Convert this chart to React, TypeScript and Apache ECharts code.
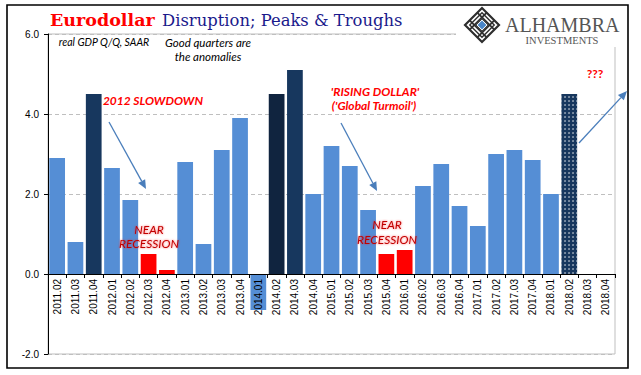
import React, { useEffect, useRef } from 'react';
import * as echarts from 'echarts';

const quarters = [
  '2011.02', '2011.03', '2011.04',
  '2012.01', '2012.02', '2012.03', '2012.04',
  '2013.01', '2013.02', '2013.03', '2013.04',
  '2014.01', '2014.02', '2014.03', '2014.04',
  '2015.01', '2015.02', '2015.03', '2015.04',
  '2016.01', '2016.02', '2016.03', '2016.04',
  '2017.01', '2017.02', '2017.03', '2017.04',
  '2018.01', '2018.02', '2018.03', '2018.04',
];

const gdpGrowth: (number | null)[] = [
  2.9, 0.8, 4.5,
  2.65, 1.85, 0.5, 0.1,
  2.8, 0.75, 3.1, 3.9,
  -0.9, 4.5, 5.1, 2.0,
  3.2, 2.7, 1.6, 0.5,
  0.6, 2.2, 2.75, 1.7,
  1.2, 3.0, 3.1, 2.85,
  2.0, 4.5, null, null,
];

const yTicks = [-2, 0, 2, 4, 6];
const peakQuarters = ['2011.04', '2014.03'];
const darkestQuarter = '2014.02';
const nearRecessionQuarters = ['2012.03', '2012.04', '2015.04', '2016.01'];
const forecastQuarter = '2018.02';

const BLUE = '#558ed5';
const NAVY = '#17375e';
const DARK = '#10243f';
const RED = '#ff0000';
const ARROW = '#4a7ebb';
const ANNO_FONT = 'Lato, "Open Sans", sans-serif';

const GRID_TOP = 34;
const GRID_BOTTOM = 21;
const CHART_H = 375;

function arrow(x1: number, y1: number, x2: number, y2: number) {
  const dx = x2 - x1;
  const dy = y2 - y1;
  const len = Math.sqrt(dx * dx + dy * dy);
  const ux = dx / len;
  const uy = dy / len;
  const hl = 9;
  const hw = 4;
  const bx = x2 - ux * hl;
  const by = y2 - uy * hl;
  return [
    {
      type: 'line',
      z: 100,
      shape: { x1, y1, x2: bx, y2: by },
      style: { stroke: ARROW, lineWidth: 1.3 },
    },
    {
      type: 'polygon',
      z: 100,
      shape: {
        points: [
          [x2, y2],
          [bx - uy * hw, by + ux * hw],
          [bx + uy * hw, by - ux * hw],
        ],
      },
      style: { fill: ARROW },
    },
  ];
}

function logo(cx: number, cy: number, s: number) {
  const p = (u: number, v: number) => [cx + ((u - v) * s) / 2, cy + ((u + v) * s) / 2];
  const diamond = (r: number) => [p(-r, -r), p(r, -r), p(r, r), p(-r, r)];
  const els: any[] = [];
  els.push({
    type: 'polygon',
    z: 100,
    shape: { points: diamond(1) },
    style: { fill: '#fff', stroke: '#2e2e2e', lineWidth: 2.2 },
  });
  els.push({
    type: 'polygon',
    z: 100,
    shape: { points: diamond(0.72) },
    style: { fill: 'none', stroke: '#2e2e2e', lineWidth: 1.4 },
  });
  [-0.45, 0.45].forEach((t) => {
    els.push({
      type: 'line', z: 100,
      shape: { x1: p(t, -1)[0], y1: p(t, -1)[1], x2: p(t, 1)[0], y2: p(t, 1)[1] },
      style: { stroke: '#2e2e2e', lineWidth: 1.8 },
    });
    els.push({
      type: 'line', z: 100,
      shape: { x1: p(-1, t)[0], y1: p(-1, t)[1], x2: p(1, t)[0], y2: p(1, t)[1] },
      style: { stroke: '#2e2e2e', lineWidth: 1.8 },
    });
  });
  els.push({
    type: 'polygon',
    z: 101,
    shape: { points: diamond(0.36) },
    style: { fill: '#fff', stroke: '#2e2e2e', lineWidth: 1 },
  });
  els.push({
    type: 'polygon',
    z: 102,
    shape: { points: diamond(0.26) },
    style: { fill: '#4a86c8' },
  });
  return els;
}

function barColor(q: string) {
  if (q === darkestQuarter) return DARK;
  if (peakQuarters.includes(q)) return NAVY;
  if (nearRecessionQuarters.includes(q)) return RED;
  if (q === forecastQuarter) return NAVY;
  return BLUE;
}

export default function App() {
  const ref = useRef<HTMLDivElement>(null);

  useEffect(() => {
    if (!ref.current) return;
    const chart = echarts.init(ref.current, undefined, { renderer: 'svg' });

    const yMin = yTicks[0];
    const yMax = yTicks[yTicks.length - 1];
    const plotH = CHART_H - GRID_TOP - GRID_BOTTOM;
    // distance from the bottom of the grid up to the zero line, from the value scale
    const zeroOffset = ((0 - yMin) / (yMax - yMin)) * plotH;

    const data = quarters.map((q, i) => {
      const item: any = { value: gdpGrowth[i], itemStyle: { color: barColor(q) } };
      if (q === forecastQuarter) {
        item.itemStyle.decal = {
          symbol: 'circle',
          symbolSize: 0.7,
          color: '#ffffff',
          dashArrayX: [2, 1.6],
          dashArrayY: [2, 1.6],
          rotation: 0,
        };
      }
      return item;
    });

    const textEl = (text: string, x: number, y: number, style: any) => ({
      type: 'text',
      z: 100,
      x,
      y,
      style: { text, textAlign: 'center', textVerticalAlign: 'middle', ...style },
    });

    const redLabel = { fill: RED, font: `italic bold 12px ${ANNO_FONT}` };
    const recLabel = { fill: '#c00000', font: `italic 12px ${ANNO_FONT}`, textShadowColor: 'rgba(255,0,0,0.6)', textShadowBlur: 2 };

    chart.setOption({
      animation: false,
      backgroundColor: '#ffffff',
      grid: {
        left: 48,
        right: 26,
        top: GRID_TOP,
        bottom: GRID_BOTTOM,
        containLabel: false,
        outerBoundsMode: 'none',
        show: true,
        borderColor: '#bfbfbf',
        borderWidth: 1,
        backgroundColor: 'transparent',
      },
      xAxis: {
        type: 'category',
        data: quarters,
        offset: -zeroOffset,
        axisLine: { onZero: false, lineStyle: { color: '#000', width: 1 } },
        axisTick: { show: true, length: 4, lineStyle: { color: '#000' } },
        axisLabel: {
          rotate: 90,
          interval: 0,
          margin: 5,
          fontSize: 10,
          fontFamily: '"Liberation Sans", Arial, sans-serif',
          color: '#000',
        },
        splitLine: { show: false },
        z: 5,
      },
      yAxis: {
        type: 'value',
        min: yMin,
        max: yMax,
        interval: 2,
        axisLine: { show: true, lineStyle: { color: '#000', width: 1 } },
        axisTick: { show: true, length: 4, lineStyle: { color: '#000' } },
        axisLabel: {
          formatter: (v: number) => v.toFixed(1),
          fontSize: 10,
          margin: 9,
          fontFamily: '"Liberation Sans", Arial, sans-serif',
          color: '#000',
        },
        splitLine: { show: true, lineStyle: { color: '#bfbfbf', type: [4, 3], width: 1 } },
      },
      series: [
        {
          type: 'bar',
          data,
          barCategoryGap: '14%',
          z: 2,
        },
      ],
      graphic: [
        {
          type: 'rect', z: 99,
          shape: { x: 456, y: 30, width: 162, height: 8 },
          style: { fill: '#fff' },
        },
        {
          type: 'rect', z: 99,
          shape: { x: 612, y: 30, width: 8, height: 17 },
          style: { fill: '#fff' },
        },
        {
          type: 'rect', z: 100,
          shape: { x: 7, y: 5, width: 621, height: 363 },
          style: { fill: 'none', stroke: '#000', lineWidth: 1.6 },
        },
        {
          type: 'text', z: 100, x: 50, y: 20,
          style: {
            text: 'Eurodollar',
            fill: RED,
            font: 'bold 17.5px "DejaVu Serif", serif',
            textVerticalAlign: 'middle',
          },
        },
        {
          type: 'text', z: 100, x: 162, y: 20,
          style: {
            text: 'Disruption; Peaks & Troughs',
            fill: '#1a1a8c',
            font: '16.4px "DejaVu Serif", serif',
            textVerticalAlign: 'middle',
          },
        },
        ...logo(482, 25, 17),
        {
          type: 'text', z: 100, x: 505, y: 25,
          style: {
            text: 'ALHAMBRA',
            fill: '#555555',
            font: '20px "Liberation Serif", serif',
            textVerticalAlign: 'middle',
          },
        },
        {
          type: 'text', z: 100, x: 562, y: 40,
          style: {
            text: 'INVESTMENTS',
            fill: '#555555',
            font: '10.5px "Liberation Serif", serif',
            textAlign: 'center',
            textVerticalAlign: 'middle',
          },
        },
        textEl('real GDP Q/Q, SAAR', 104, 42, { fill: '#000', font: `italic 10.5px ${ANNO_FONT}` }),
        textEl('Good quarters are', 208, 42, { fill: '#000', font: `italic 11.5px ${ANNO_FONT}` }),
        textEl('the anomalies', 208, 56, { fill: '#000', font: `italic 11.5px ${ANNO_FONT}` }),
        textEl('2012 SLOWDOWN', 153, 100, redLabel),
        textEl('NEAR', 149, 229, recLabel),
        textEl('RECESSION', 149, 243, recLabel),
        textEl("'RISING DOLLAR'", 375, 91, redLabel),
        textEl("('Global Turmoil')", 374, 105, redLabel),
        textEl('NEAR', 387, 224, recLabel),
        textEl('RECESSION', 387, 239, recLabel),
        textEl('???', 595, 73, { fill: RED, font: `bold 12px ${ANNO_FONT}` }),
        ...arrow(109, 122, 146, 189),
        ...arrow(341, 123, 377, 191),
        ...arrow(579, 143, 627, 91),
      ],
    });

    return () => chart.dispose();
  }, []);

  return (
    <div
      ref={ref}
      style={{ position: 'absolute', left: 0, top: 0, width: 641, height: 375 }}
    />
  );
}
